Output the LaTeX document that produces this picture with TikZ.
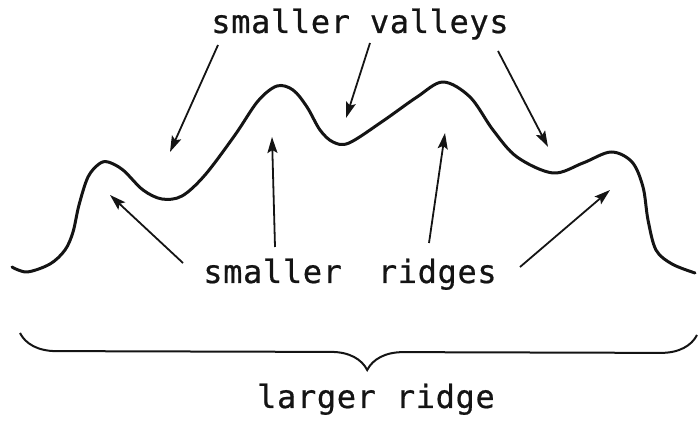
\documentclass[tikz,border=0pt]{standalone}
\usepackage{fontspec}
\usepackage{xcolor}
\usepackage{tikz}
\usetikzlibrary{arrows.meta,decorations.pathreplacing}
\newfontfamily\letterfont[LetterSpace=2,FakeBold=0.6]{DejaVu Sans Mono}
\definecolor{inkblk}{HTML}{141414}
\tikzset{
  lbl/.style={font=\letterfont\fontsize{16}{19}\selectfont,text=inkblk,inner sep=0pt,anchor=base},
  ridgeline/.style={draw=inkblk,line width=1.5pt,line cap=round,line join=round},
  ar/.style={-{Stealth[length=8pt,width=5pt,inset=1.5pt]},draw=inkblk,line width=0.9pt},
  bracel/.style={draw=inkblk,line width=1pt,decorate,decoration={brace,mirror,amplitude=18pt,aspect=0.513}},
}
\begin{document}
\begin{tikzpicture}[x=0.5pt,y=-0.5pt]
  \useasboundingbox (0,0) rectangle (700,421);
  % labels
  \node[lbl] (valleys) at (360,33) {smaller valleys};
  \node[lbl] (ridges) at (350,283) {smaller\ \hspace{0.5em}ridges};
  \node[lbl] (larger) at (376,408) {larger ridge};
  % profile
  \draw[ridgeline] plot[smooth,tension=0.55] coordinates {
    (12,267) (27,272) (50,264) (65,250) (73,232) (79,205) (88,177) (99,164)
    (108,162) (123,170) (143,190) (162,199) (182,196) (205,175) (235,135)
    (258,101) (277,86) (293,90) (307,107) (320,130) (333,142) (349,143)
    (383,121) (417,97) (443,82) (470,97) (493,130) (517,157) (553,173)
    (583,163) (611,152) (632,162) (643,187) (648,220) (656,250) (672,264)
    (695,273)};
  % valley arrows
  \coordinate (v1t) at (218,45);  \coordinate (v1h) at (170,152);
  \coordinate (v2t) at (370,43);  \coordinate (v2h) at (346,118);
  \coordinate (v3t) at (498,51);  \coordinate (v3h) at (548,147);
  \draw[ar] (v1t)--(v1h);\draw[ar] (v2t)--(v2h);\draw[ar] (v3t)--(v3h);
  % ridge arrows
  \coordinate (r1t) at (183,263); \coordinate (r1h) at (110,195);
  \coordinate (r2t) at (275,247); \coordinate (r2h) at (272,137);
  \coordinate (r3t) at (429,243); \coordinate (r3h) at (445,133);
  \coordinate (r4t) at (520,267); \coordinate (r4h) at (610,190);
  \draw[ar] (r1t)--(r1h);\draw[ar] (r2t)--(r2h);\draw[ar] (r3t)--(r3h);\draw[ar] (r4t)--(r4h);
  % brace
  \coordinate (bl) at (20,333); \coordinate (br) at (697,335);
  \draw[bracel] (bl)--(br);
\end{tikzpicture}
\end{document}
